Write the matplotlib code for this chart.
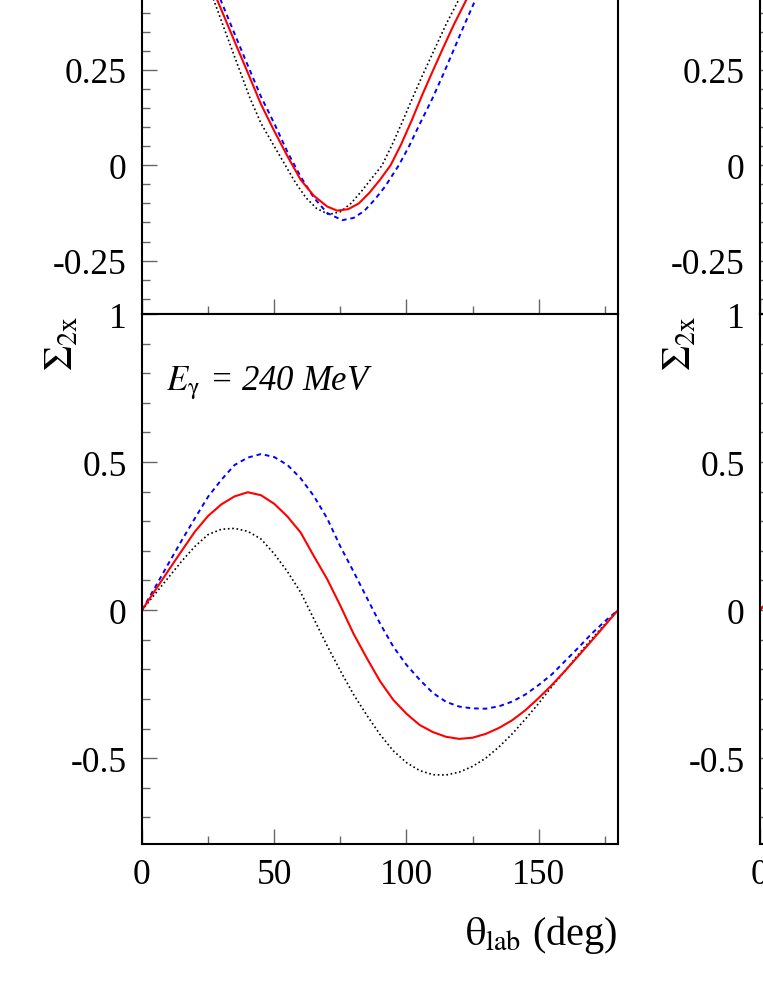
import numpy as np
import matplotlib
matplotlib.use("Agg")
import matplotlib.pyplot as plt
from matplotlib.ticker import MultipleLocator, FixedLocator, FixedFormatter

plt.rcParams["font.family"] = ["Liberation Serif", "DejaVu Serif"]
plt.rcParams["mathtext.fontset"] = "stix"
plt.rcParams["axes.unicode_minus"] = False

# ---------- panel superior (cortado arriba) ----------
top_theta_red = [20, 25, 30, 35, 40, 45, 50, 55, 60, 65, 70, 73.8, 78, 82, 86, 90, 94,
                 98, 102, 106, 110, 114, 118, 122.8, 130]
top_red = [0.57, 0.49, 0.408, 0.325, 0.243, 0.16, 0.09, 0.024, -0.038, -0.08, -0.108, -0.119, -0.115,
           -0.10, -0.072, -0.038, 0.0, 0.055, 0.118, 0.185, 0.248, 0.31, 0.37, 0.436, 0.54]

top_theta_blue = [21, 25, 29.6, 35, 40, 45, 50, 55, 60, 65, 70, 75.7, 80, 84, 88, 92, 97.1,
                  101, 105, 109.8, 114, 118, 122, 126.2, 133]
top_blue = [0.57, 0.51, 0.436, 0.345, 0.262, 0.18, 0.11, 0.035, -0.03, -0.085, -0.125, -0.144, -0.138,
            -0.12, -0.09, -0.055, 0.0, 0.05, 0.108, 0.175, 0.24, 0.305, 0.37, 0.436, 0.54]

top_theta_black = [19, 23, 27, 31, 35, 40.9, 45, 50, 54.2, 58, 62, 66, 70.6, 75, 79, 83, 87,
                   90.8, 95, 98.5, 102.2, 106, 110, 115, 119.9, 127]
top_black = [0.57, 0.505, 0.436, 0.36, 0.285, 0.175, 0.11, 0.05, 0.0, -0.045, -0.085, -0.113, -0.129,
             -0.122, -0.10, -0.068, -0.033, 0.0, 0.06, 0.115, 0.175, 0.235, 0.295, 0.37, 0.436, 0.55]

# ---------- panel inferior: E_gamma = 240 MeV ----------
theta = [0, 5, 10, 15, 20, 25, 30, 35, 40, 45, 50, 55, 60, 65, 70, 75, 80, 85, 90,
         95, 100, 105, 110, 115, 120, 125, 130, 135, 140, 145, 150, 155, 160, 165, 170, 175, 180]
sigma_red = [0.0, 0.067, 0.134, 0.2, 0.265, 0.318, 0.357, 0.384, 0.398, 0.388, 0.359, 0.316, 0.262,
             0.182, 0.105, 0.015, -0.08, -0.162, -0.24, -0.303, -0.35, -0.388, -0.412, -0.428, -0.435,
             -0.431, -0.418, -0.398, -0.372, -0.338, -0.297, -0.253, -0.205, -0.155, -0.104, -0.052, 0.0]
sigma_blue = [0.0, 0.078, 0.157, 0.235, 0.31, 0.383, 0.44, 0.49, 0.515, 0.527, 0.517, 0.49, 0.445,
              0.385, 0.31, 0.215, 0.13, 0.042, -0.045, -0.123, -0.185, -0.235, -0.28, -0.31, -0.326,
              -0.332, -0.333, -0.325, -0.309, -0.285, -0.253, -0.217, -0.172, -0.127, -0.08, -0.038, 0.0]
sigma_black = [0.0, 0.055, 0.11, 0.165, 0.215, 0.255, 0.273, 0.276, 0.266, 0.24, 0.19, 0.13, 0.06,
               -0.03, -0.12, -0.205, -0.285, -0.355, -0.42, -0.475, -0.515, -0.542, -0.556, -0.557, -0.547,
               -0.528, -0.5, -0.462, -0.418, -0.368, -0.315, -0.258, -0.205, -0.15, -0.098, -0.048, 0.0]

# columna derecha (solo se ve el arranque de las curvas)
right_theta = [0, 3]
right_red = [0.0, 0.03]
right_blue = [0.0, 0.035]

W, H = 763, 987
fig = plt.figure(figsize=(W / 100, H / 100), dpi=100)


def px_box(x0, y_top, x1, y_bot):
    return [x0 / W, (H - y_bot) / H, (x1 - x0) / W, (y_bot - y_top) / H]


def estilo(ax, ylim, major, minor, labels, xlabels):
    ax.set_xlim(0, 180)
    ax.set_ylim(*ylim)
    ax.xaxis.set_major_locator(FixedLocator([0, 50, 100, 150]))
    ax.xaxis.set_minor_locator(MultipleLocator(25))
    ax.yaxis.set_major_locator(FixedLocator(major))
    ax.yaxis.set_major_formatter(FixedFormatter(labels))
    ax.yaxis.set_minor_locator(MultipleLocator(minor))
    ax.tick_params(which="both", direction="in", top=False, right=False,
                   color="0.4", width=1.0, labelsize=25.5)
    ax.tick_params(which="major", length=11)
    ax.tick_params(which="minor", length=6)
    ax.tick_params(axis="y", pad=11)
    ax.tick_params(axis="x", pad=10)
    if xlabels:
        ax.set_xticklabels(["0", "50", "100", "150"])
    else:
        ax.set_xticklabels([])
    for s in ax.spines.values():
        s.set_linewidth(1.5)


panel_h = 530
columnas = [(142, 618), (760, 1236)]

for col, (xa, xb) in enumerate(columnas):
    ax_top = fig.add_axes(px_box(xa, 315 - panel_h, xb, 315))
    ax_bot = fig.add_axes(px_box(xa, 315, xb, 845))

    estilo(ax_top, (-0.39, 1.0), [-0.25, 0, 0.25],
           0.05, ["-0.25", "0", "0.25"], False)
    estilo(ax_bot, (-0.79, 1.0), [-0.5, 0, 0.5, 1.0],
           0.1, ["-0.5", "0", "0.5", "1"], True)

    if col == 0:
        ax_top.plot(top_theta_black, top_black, color="black", lw=1.2, ls=(0, (1, 1.6)))
        ax_top.plot(top_theta_blue, top_blue, color="blue", lw=1.4, ls=(0, (2.4, 2.0)))
        ax_top.plot(top_theta_red, top_red, color="red", lw=1.5)

        ax_bot.plot(theta, sigma_black, color="black", lw=1.2, ls=(0, (1, 1.6)))
        ax_bot.plot(theta, sigma_blue, color="blue", lw=1.4, ls=(0, (2.4, 2.0)))
        ax_bot.plot(theta, sigma_red, color="red", lw=1.5)

        ax_bot.text((166 - xa) / (xb - xa), (845 - 390) / panel_h,
                    r"$\mathit{E}_{\mathrm{\gamma}}$ = 240 MeV",
                    transform=ax_bot.transAxes, fontsize=25, style="italic",
                    ha="left", va="baseline")
    else:
        ax_bot.plot(right_theta, right_blue, color="blue", lw=1.4, ls=(0, (2.4, 2.0)))
        ax_bot.plot(right_theta, right_red, color="red", lw=1.5)

    # etiqueta del eje y
    fig.text((xa - 79) / W, (H - 343) / H, r"$\Sigma_{\mathrm{2x}}$",
             rotation=90, ha="center", va="center", fontsize=29)

# etiqueta del eje x
fig.text(617 / W, (H - 945) / H, r"$\mathrm{\theta_{lab}}$ (deg)",
         ha="right", va="baseline", fontsize=29)

fig.savefig("out.png", dpi=100)
